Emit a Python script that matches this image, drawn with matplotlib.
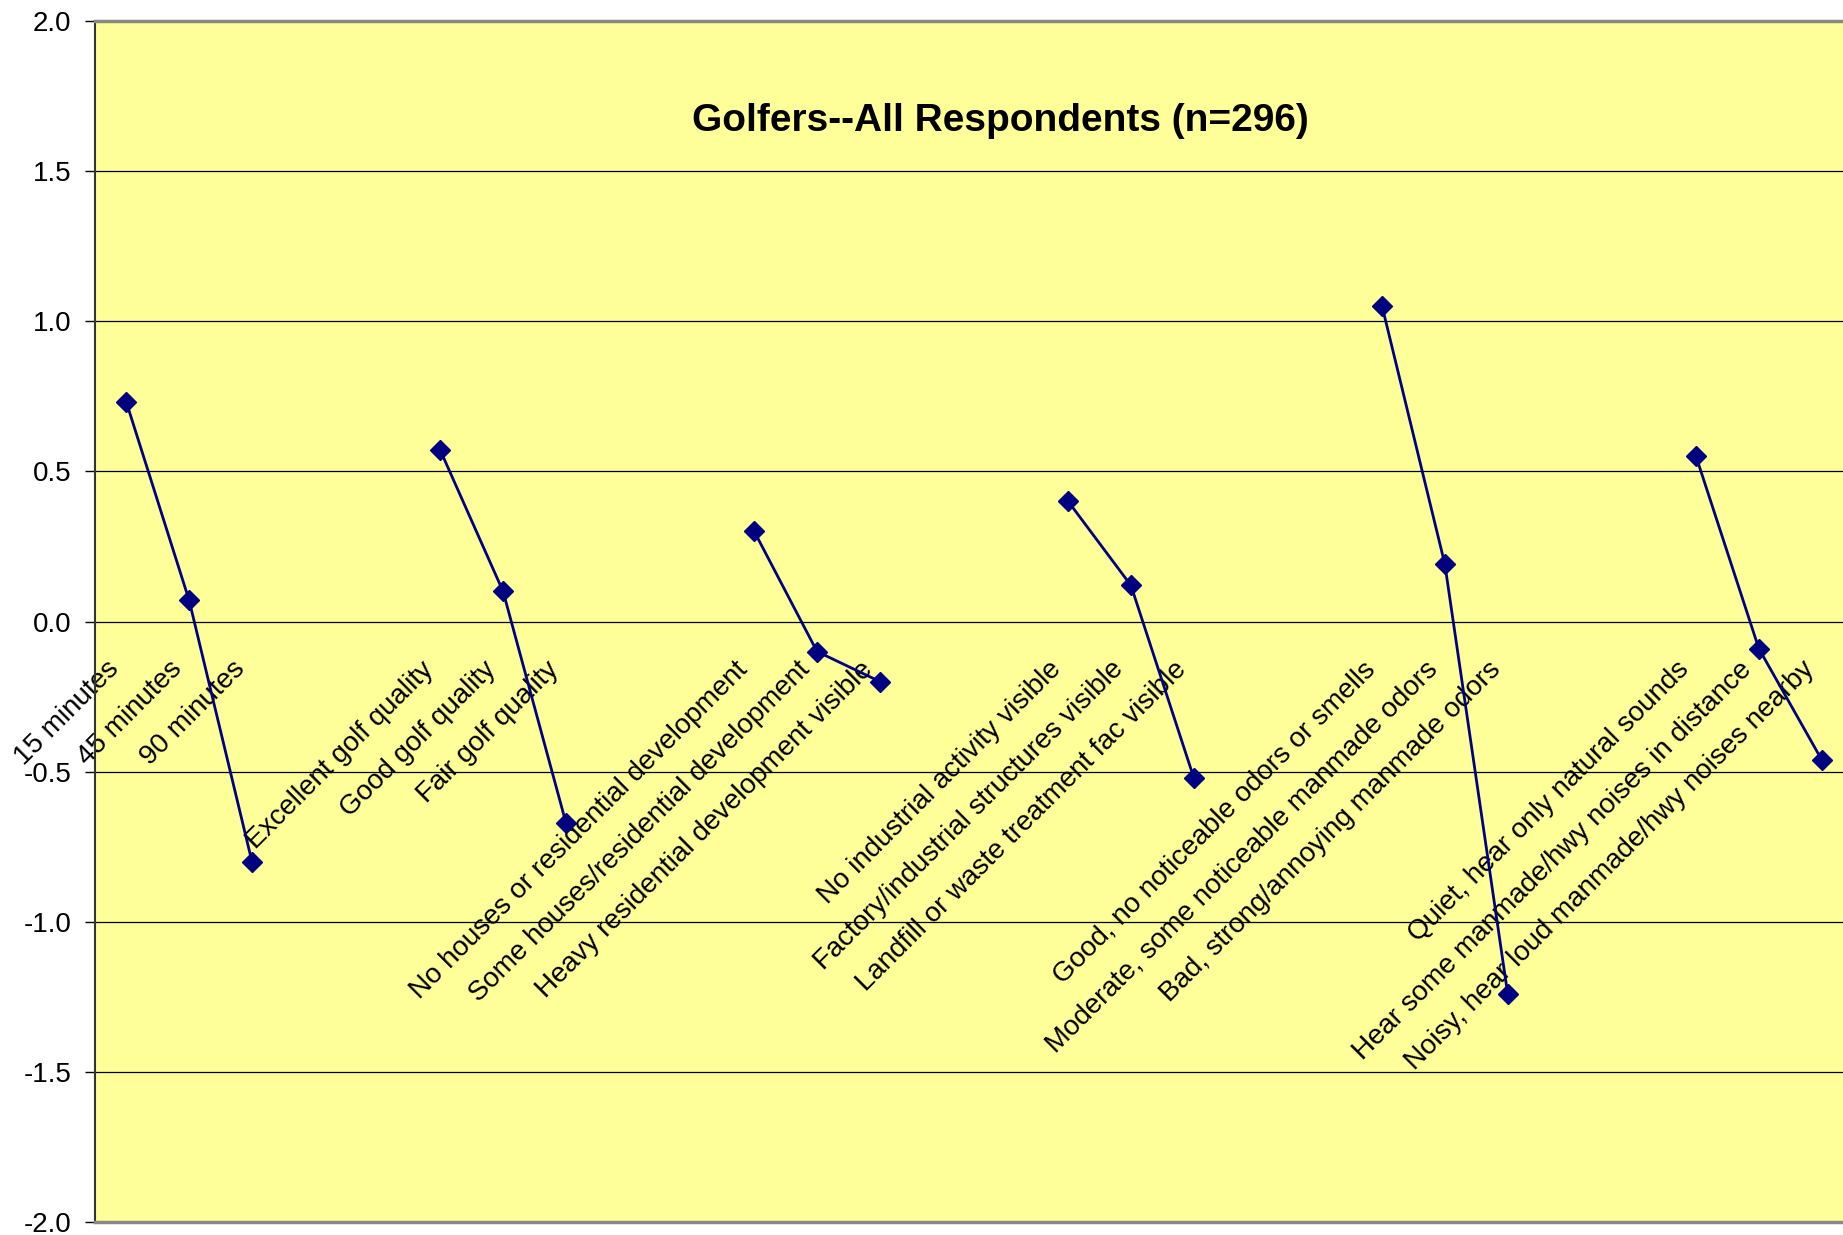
import numpy as np
import matplotlib
matplotlib.use("Agg")
import matplotlib.pyplot as plt
from matplotlib.transforms import offset_copy

plt.rcParams['font.family'] = ['Liberation Sans', 'DejaVu Sans']

title = "Golfers--All Respondents (n=296)"

# categories, blank slots separate the attribute groups
categories = [
    "15 minutes", "45 minutes", "90 minutes", "", "",
    "Excellent golf quality", "Good golf quality", "Fair golf quality", "", "",
    "No houses or residential development", "Some houses/residential development",
    "Heavy residential development visible", "", "",
    "No industrial activity visible", "Factory/industrial structures visible",
    "Landfill or waste treatment fac visible", "", "",
    "Good, no noticeable odors or smells", "Moderate, some noticeable manmade odors",
    "Bad, strong/annoying manmade odors", "", "",
    "Quiet, hear only natural sounds", "Hear some manmade/hwy noises in distance",
    "Noisy, hear loud manmade/hwy noises nearby",
]
nan = np.nan
values = [
    0.73, 0.07, -0.80, nan, nan,
    0.57, 0.10, -0.67, nan, nan,
    0.30, -0.10, -0.20, nan, nan,
    0.40, 0.12, -0.52, nan, nan,
    1.05, 0.19, -1.24, nan, nan,
    0.55, -0.09, -0.46,
]
yticks = [-2.0, -1.5, -1.0, -0.5, 0.0, 0.5, 1.0, 1.5, 2.0]

fig = plt.figure(figsize=(18.43, 12.35), dpi=100)
fig.patch.set_facecolor("white")
ax = fig.add_axes([95 / 1843, 13 / 1235, 1758 / 1843, 1201 / 1235])
ax.set_facecolor("#FFFF99")

x = np.arange(len(categories))
ax.plot(x, values, color="#000080", lw=2, marker="D", markersize=10, zorder=3)

ax.set_xlim(-0.5, len(categories) - 0.5)
ax.set_ylim(-2, 2)
ax.set_yticks(yticks)
ax.set_yticklabels([f"{v:.1f}" for v in yticks], fontsize=20)
ax.tick_params(axis="y", length=7, width=1, color="black", pad=10)
ax.set_xticks([])
for v in yticks[1:-1]:
    ax.axhline(v, color="black", lw=0.9, zorder=1)

ax.spines["left"].set_color("#333333")
ax.spines["left"].set_linewidth(1.5)
ax.spines["top"].set_color("#888888")
ax.spines["top"].set_linewidth(2.5)
ax.spines["bottom"].set_color("#888888")
ax.spines["bottom"].set_linewidth(2.5)
ax.spines["right"].set_visible(False)

# category labels hang below the zero line, rotated 45 degrees
lab_tr = offset_copy(ax.transData, fig=fig, x=-11, y=-44, units="dots")
for xi, lab in zip(x, categories):
    if lab:
        ax.text(xi, 0, lab, transform=lab_tr, rotation=45, rotation_mode="anchor",
                ha="right", va="center", fontsize=20, zorder=2)

fig.text(1000 / 1843, 1 - 121 / 1235, title, ha="center", va="center",
         fontsize=28, fontweight="bold")

fig.savefig("out.png", dpi=100)
